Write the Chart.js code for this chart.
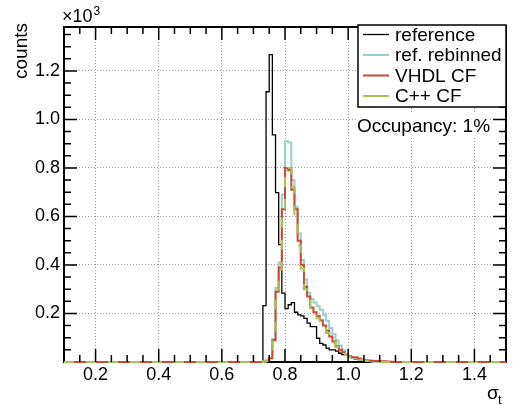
<!DOCTYPE html>
<html>
<head>
<meta charset="utf-8">
<title>sigma_t</title>
<script src="https://cdn.jsdelivr.net/npm/chart.js@4.4.0/dist/chart.umd.min.js"></script>
<style>
  body { margin: 0; background: #fff; }
  canvas { display: block; }
</style>
</head>
<body>
<canvas id="g-sigma" width="514" height="405"></canvas>
<script>
// bins of 0.01 starting at binStart, everything outside is zero
const xRange = [0.1, 1.5];
const binStart = 0.70;
const binWidth = 0.01;

//                 0.70 ...                                                   0.80 ...
const reference   = [0, 0, 0, 232, 1114, 1267, 936, 698, 484, 284,
                     220, 236, 245, 205, 194, 190, 180, 160, 146, 146,
                     98, 77, 70, 57, 50, 50, 45, 36, 30, 30,
                     22, 16, 12, 10, 8, 5, 3, 0, 0, 0,
                     0, 0, 0, 0];
const refRebinned = [0, 0, 0, 3, 6, 15, 95, 305, 410, 690,
                     910, 905, 750, 640, 530, 420, 340, 285, 260, 245,
                     230, 215, 195, 170, 140, 115, 90, 68, 48, 32,
                     24, 16, 14, 10, 8, 6, 4, 2, 0, 0,
                     0, 0, 0, 0];
const vhdlCF      = [0, 0, 0, 2, 5, 15, 90, 290, 390, 630,
                     800, 790, 710, 630, 500, 400, 310, 270, 225, 205,
                     190, 172, 150, 130, 105, 85, 65, 50, 40, 30,
                     24, 20, 20, 14, 10, 8, 6, 5, 4, 4,
                     3, 3, 2, 1];
const cppCF       = [0, 0, 0, 2, 5, 14, 88, 300, 380, 620,
                     795, 800, 720, 600, 480, 385, 300, 255, 215, 195,
                     180, 160, 140, 120, 100, 80, 62, 48, 36, 28,
                     22, 16, 12, 10, 8, 6, 4, 3, 2, 1,
                     0, 0, 0, 0];

const xTicks = [0.2, 0.4, 0.6, 0.8, 1.0, 1.2, 1.4];
const yTicks = [200, 400, 600, 800, 1000, 1200];
const yMax = 1381;

const series = [
    { label: 'reference', data: reference, color: '#000000', width: 1.3 },
    { label: 'ref. rebinned', data: refRebinned, color: '#9ccfc9', width: 2 },
    { label: 'VHDL CF', data: vhdlCF, color: '#cc4a38', width: 2 },
    { label: 'C++ CF', data: cppCF, color: '#a5c456', width: 2, dash: [10, 12] }
];

const FONT = '"Liberation Sans", Arial, Helvetica, sans-serif';

function toSteps(values) {
    const pts = [{ x: xRange[0], y: 0 }];
    values.forEach((v, i) => pts.push({ x: binStart + i * binWidth, y: v }));
    pts.push({ x: binStart + values.length * binWidth, y: 0 });
    pts.push({ x: xRange[1], y: 0 });
    return pts;
}

// ROOT-like frame, inward ticks, legend box and labels
const rootFrame = {
    id: 'rootFrame',
    beforeDatasetsDraw(chart) {
        const { ctx, chartArea: a } = chart;
        ctx.save();
        ctx.strokeStyle = '#000';
        ctx.lineWidth = 2;
        ctx.strokeRect(a.left, a.top, a.right - a.left, a.bottom - a.top);
        ctx.restore();
    },
    afterDatasetsDraw(chart) {
        const { ctx, chartArea: a, scales: { x, y } } = chart;
        ctx.save();
        ctx.strokeStyle = '#000';
        ctx.lineWidth = 1.5;
        ctx.beginPath();
        for (let k = 3; k < 30; k++) {
            const px = x.getPixelForValue(k * 0.05);
            const len = k % 4 === 0 ? 13 : 7;
            ctx.moveTo(px, a.bottom); ctx.lineTo(px, a.bottom - len);
            ctx.moveTo(px, a.top); ctx.lineTo(px, a.top + len);
        }
        for (let k = 1; k * 50 < yMax; k++) {
            const py = y.getPixelForValue(k * 50);
            const len = k % 4 === 0 ? 13 : 7;
            ctx.moveTo(a.left, py); ctx.lineTo(a.left + len, py);
            ctx.moveTo(a.right, py); ctx.lineTo(a.right - len, py);
        }
        ctx.stroke();

        // legend box
        const lx0 = a.right - 148, ly0 = a.top - 2, lx1 = a.right, ly1 = a.top + 80;
        ctx.fillStyle = '#fff';
        ctx.fillRect(lx0, ly0, lx1 - lx0, ly1 - ly0);
        ctx.lineWidth = 1.5;
        ctx.strokeRect(lx0, ly0, lx1 - lx0, ly1 - ly0);
        ctx.font = '19px ' + FONT;
        ctx.textBaseline = 'middle';
        ctx.textAlign = 'left';
        series.forEach((s, i) => {
            const ry = ly0 + 9.5 + i * 20.5;
            ctx.strokeStyle = s.color;
            ctx.lineWidth = s.width;
            ctx.beginPath();
            ctx.moveTo(lx0 + 5, ry); ctx.lineTo(lx0 + 31, ry);
            ctx.stroke();
            ctx.fillStyle = '#000';
            ctx.fillText(s.label, lx0 + 37, ry + 1);
        });

        // occupancy pave
        ctx.fillStyle = '#fff';
        ctx.fillRect(lx0 - 2, ly1 + 5, 134, 25);
        ctx.fillStyle = '#000';
        ctx.textBaseline = 'alphabetic';
        ctx.fillText('Occupancy: 1%', lx0 - 1, ly1 + 25);
        ctx.restore();
    },
    afterDraw(chart) {
        const { ctx, chartArea: a } = chart;
        ctx.save();
        ctx.fillStyle = '#000';
        ctx.textBaseline = 'alphabetic';
        // y title
        ctx.save();
        ctx.translate(a.left - 37, a.top - 4);
        ctx.rotate(-Math.PI / 2);
        ctx.textAlign = 'right';
        ctx.font = '19px ' + FONT;
        ctx.fillText('counts', 0, 0);
        ctx.restore();
        // x title, sigma with subscript t
        ctx.textAlign = 'left';
        ctx.font = '19px ' + FONT;
        ctx.fillText('σ', a.right - 19, 399);
        ctx.font = '13px ' + FONT;
        ctx.fillText('t', a.right - 8, 404);
        // exponent
        ctx.font = '18px ' + FONT;
        ctx.fillText('×10', a.left - 2, a.top - 5);
        const w = ctx.measureText('×10').width;
        ctx.font = '12px ' + FONT;
        ctx.fillText('3', a.left - 1 + w, a.top - 12);
        ctx.restore();
    }
};

const config = {
    type: 'line',
    data: {
        datasets: series.map((s, i) => ({
            label: s.label,
            data: toSteps(s.data),
            borderColor: s.color,
            borderWidth: s.width,
            borderDash: s.dash || [],
            stepped: 'before',
            fill: false,
            pointRadius: 0,
            order: series.length - i,
            clip: 3
        }))
    },
    options: {
        responsive: false,
        animation: false,
        devicePixelRatio: 1,
        layout: { padding: { top: 27, right: 8, left: 0, bottom: 0 } },
        plugins: { legend: { display: false }, tooltip: { enabled: false } },
        scales: {
            x: {
                type: 'linear',
                min: xRange[0],
                max: xRange[1],
                afterBuildTicks: s => { s.ticks = xTicks.map(v => ({ value: v })); },
                afterFit: s => { s.height = 43; },
                ticks: {
                    autoSkip: false, maxRotation: 0, padding: 2, color: '#000',
                    font: { family: FONT, size: 18 },
                    callback: v => Number(v).toFixed(1)
                },
                grid: { color: '#999', lineWidth: 1, drawTicks: false },
                border: { display: false, dash: [1, 2] }
            },
            y: {
                type: 'linear',
                min: 0,
                max: yMax,
                afterBuildTicks: s => { s.ticks = yTicks.map(v => ({ value: v })); },
                afterFit: s => { s.width = 64; },
                ticks: {
                    autoSkip: false, padding: 4, color: '#000',
                    font: { family: FONT, size: 18 },
                    callback: v => (v / 1000).toFixed(1)
                },
                grid: { color: '#999', lineWidth: 1, drawTicks: false },
                border: { display: false, dash: [1, 2] }
            }
        }
    },
    plugins: [rootFrame]
};

new Chart(document.getElementById('g-sigma').getContext('2d'), config);
</script>
</body>
</html>
